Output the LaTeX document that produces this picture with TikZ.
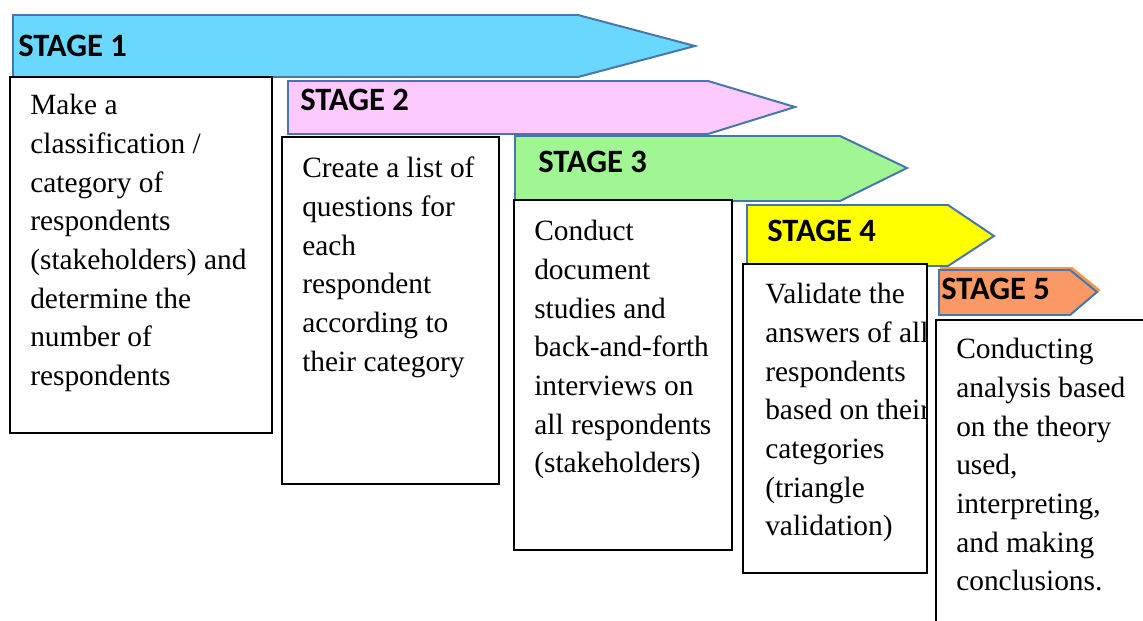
\documentclass[tikz,border=0pt]{standalone}
\usepackage{fontspec}
\setmainfont{Liberation Serif}
\newfontfamily\stagefont{Carlito}
\usepackage{tikz}

\definecolor{barline}{RGB}{70,118,172}
\definecolor{stageone}{RGB}{106,216,252}
\definecolor{stagetwo}{RGB}{253,202,253}
\definecolor{stagethree}{RGB}{160,246,146}
\definecolor{stagefour}{RGB}{255,255,0}
\definecolor{stagefive}{RGB}{250,153,101}
\definecolor{halo}{RGB}{247,150,70}

\begin{document}
\begin{tikzpicture}[x=0.025cm, y=-0.025cm,
  bar/.style={draw=barline, line width=1.4pt, line join=miter},
  boxline/.style={draw=black, line width=1.4pt, fill=white},
  lbl/.style={anchor=base west, inner sep=0pt, font=\stagefont\bfseries\fontsize{23.2}{26}\selectfont},
  txt/.style={anchor=north west, inner sep=0pt, align=left, font=\fontsize{20.9}{27.5}\selectfont}]
  \clip (0,0) rectangle (1143,620);
  % stage 1
  \draw[bar, fill=stageone] (13,15) -- (578,15) -- (695,46) -- (578,77) -- (13,77) -- cycle;
  \node[lbl] (s1) at (18,56) {STAGE 1};
  \draw[boxline] (10,77) rectangle (272,433);
  \node[txt] (t1) at (30,94) {Make a\\classification /\\category of\\respondents\\(stakeholders) and\\determine the\\number of\\respondents};
  % stage 2
  \draw[bar, fill=stagetwo] (288,81) -- (708,81) -- (795,107) -- (708,134) -- (288,134) -- cycle;
  \node[lbl] (s2) at (300,110) {STAGE 2};
  \draw[boxline] (282,137) rectangle (499,484);
  \node[txt] (t2) at (302,157) {Create a list of\\questions for\\each\\respondent\\according to\\their category};
  % stage 3
  \draw[bar, fill=stagethree] (515,136) -- (840,136) -- (907,168) -- (840,201) -- (515,201) -- cycle;
  \node[lbl] (s3) at (538,172) {STAGE 3};
  \draw[boxline] (514,200) rectangle (732,550);
  \node[txt] (t3) at (534,220) {Conduct\\document\\studies and\\back-and-forth\\interviews on\\all respondents\\(stakeholders)};
  % stage 4
  \draw[bar, fill=stagefour] (747,205) -- (948,205) -- (994,236) -- (948,266) -- (747,266) -- cycle;
  \node[lbl] (s4) at (767,241) {STAGE 4};
  \draw[boxline] (743,264) rectangle (927,573);
  \begin{scope}
    \clip (743,264) rectangle (927,573);
    \node[txt] (t4) at (765,283) {Validate the\\answers of all\\respondents\\based on their\\categories\\(triangle\\validation)};
  \end{scope}
  % stage 5
  \draw[draw=halo, fill=halo, line width=1.4pt] (941,268) -- (1072,268) -- (1099,290) -- (1072,313) -- (941,313) -- cycle;
  \draw[bar, fill=stagefive] (939,270) -- (1070,270) -- (1097,292) -- (1070,315) -- (939,315) -- cycle;
  \node[lbl] (s5) at (941,299) {STAGE 5};
  \draw[boxline] (936,320) rectangle (1170,650);
  \node[txt] (t5) at (956,338) {Conducting\\analysis based\\on the theory\\used,\\interpreting,\\and making\\conclusions.};
\end{tikzpicture}
\end{document}
